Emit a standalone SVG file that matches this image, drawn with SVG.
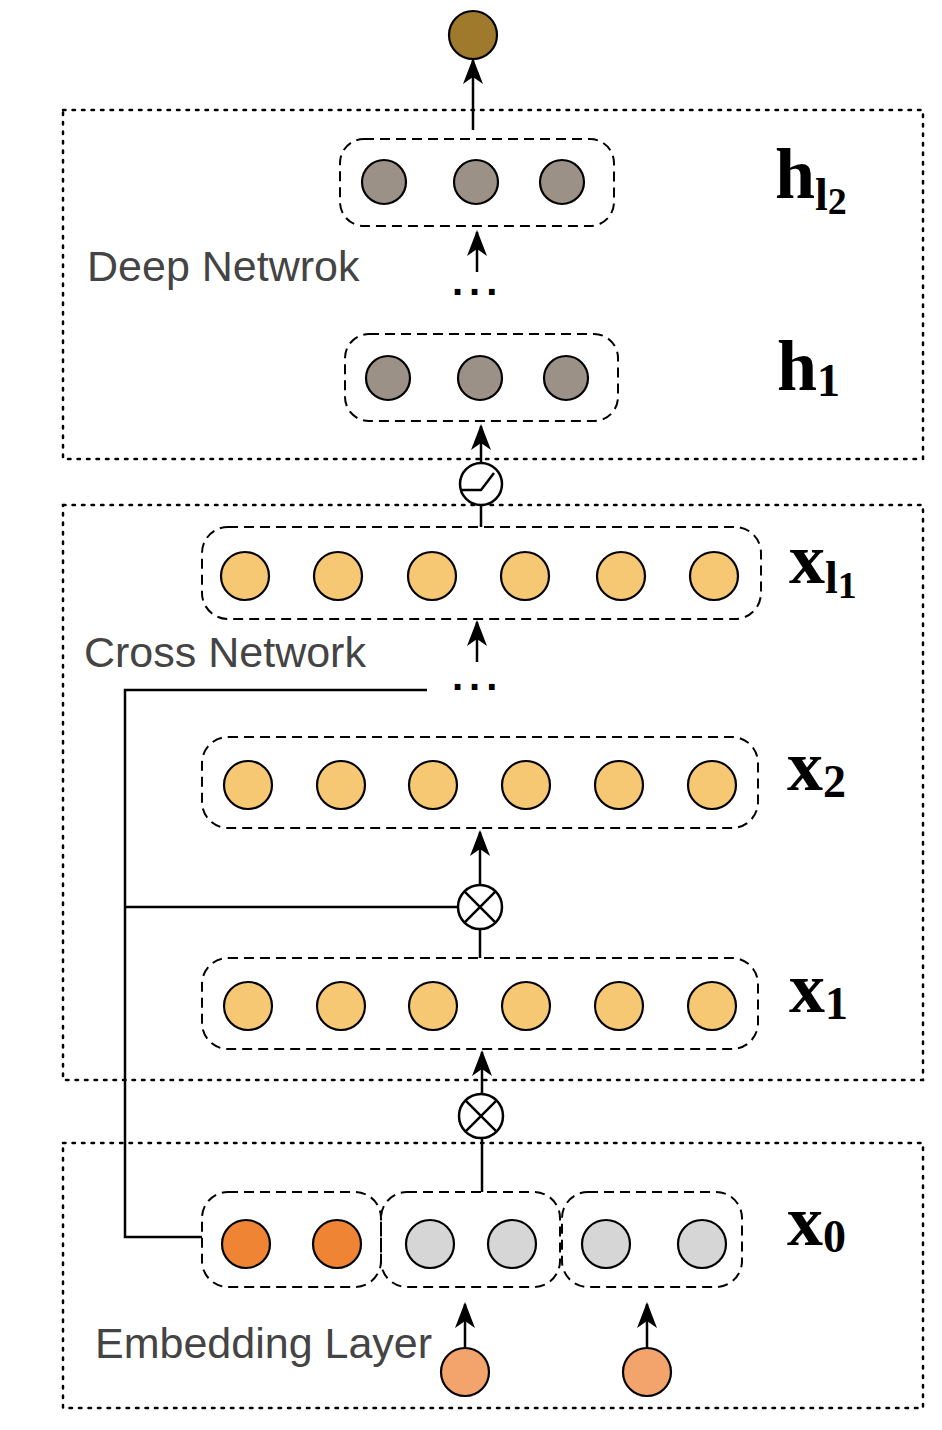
<svg xmlns="http://www.w3.org/2000/svg" width="942" height="1430" viewBox="0 0 942 1430">
<defs>
<style>
.box{fill:none;stroke:#000;stroke-width:2.5;stroke-dasharray:2.5 7;stroke-linecap:round}
.grp{fill:none;stroke:#000;stroke-width:2;stroke-dasharray:10 6}
.n{stroke:#000;stroke-width:2.2}
.gray{fill:#9C9186}
.yel{fill:#F7C873}
.org{fill:#EE8434}
.lg{fill:#D6D6D6}
.inp{fill:#F2A46C}
.ln{fill:none;stroke:#000;stroke-width:2.5}
.arr{fill:none;stroke:#000;stroke-width:2.5;marker-end:url(#ah)}
.lbl{font-family:"Liberation Sans",Arial,sans-serif;font-size:43px;fill:#444}
.math{font-family:"Liberation Serif","DejaVu Serif",serif;font-weight:bold;fill:#000}
.dots{font-family:"Liberation Sans",Arial,sans-serif;font-size:40px;font-weight:bold;fill:#000;letter-spacing:6px}
</style>
<marker id="ah" viewBox="0 0 26 28" refX="24" refY="14" markerWidth="26" markerHeight="28" markerUnits="userSpaceOnUse" orient="auto">
<path d="M0,4 L26,14 L0,24 L7,14 Z" fill="#000"/>
</marker>
</defs>

<g id="boxes">
<rect class="box" x="63" y="110" width="860" height="349"/>
<rect class="box" x="63" y="505" width="860" height="575"/>
<rect class="box" x="63" y="1143" width="860" height="265"/>
</g>

<g id="labels">
<text class="lbl" x="87" y="281">Deep Netwrok</text>
<text class="lbl" x="84" y="667">Cross Network</text>
<text class="lbl" x="95" y="1358">Embedding Layer</text>
</g>

<g id="connectors">
<line class="arr" x1="473" y1="130" x2="473" y2="60"/>
<line class="arr" x1="477" y1="272" x2="477" y2="232"/>
<line class="arr" x1="481" y1="463" x2="481" y2="426"/>
<line class="ln" x1="481" y1="505" x2="481" y2="527"/>
<line class="arr" x1="477" y1="662" x2="477" y2="622"/>
<polyline class="ln" points="427,690 125,690 125,1237 202,1237"/>
<line class="ln" x1="125" y1="907" x2="458" y2="907"/>
<line class="arr" x1="480" y1="885" x2="480" y2="832"/>
<line class="ln" x1="480" y1="929" x2="480" y2="958"/>
<line class="arr" x1="482" y1="1094" x2="482" y2="1052"/>
<polyline class="ln" points="482,1138 482,1192"/>
<line class="arr" x1="465" y1="1348" x2="465" y2="1304"/>
<line class="arr" x1="647" y1="1348" x2="647" y2="1304"/>
</g>

<g id="output"><circle class="n" cx="473" cy="35" r="24" fill="#A07A2C"/></g>

<g id="h_l2">
<rect class="grp" x="340" y="139" width="274" height="87" rx="24"/>
<circle class="n gray" cx="384" cy="182" r="22"/>
<circle class="n gray" cx="476" cy="182" r="22"/>
<circle class="n gray" cx="562" cy="182" r="22"/>
<text class="math" x="775" y="198" font-size="72">h<tspan font-size="46" dy="12">l</tspan><tspan font-size="38" dy="4">2</tspan></text>
</g>
<g id="dots1"><text class="dots" x="452" y="295">...</text></g>

<g id="h1">
<rect class="grp" x="345" y="334" width="273" height="87" rx="24"/>
<circle class="n gray" cx="388" cy="378" r="22"/>
<circle class="n gray" cx="480" cy="378" r="22"/>
<circle class="n gray" cx="566" cy="378" r="22"/>
<text class="math" x="777" y="390" font-size="72">h<tspan font-size="46" dy="6">1</tspan></text>
</g>

<g id="relu">
<circle cx="481" cy="484" r="21" fill="#fff" stroke="#000" stroke-width="2.5"/>
<polyline points="462,490 481,490 494,473" fill="none" stroke="#000" stroke-width="2.5"/>
</g>

<g id="x_l1">
<rect class="grp" x="202" y="527" width="559" height="92" rx="26"/>
<circle class="n yel" cx="245" cy="576" r="24"/>
<circle class="n yel" cx="338" cy="576" r="24"/>
<circle class="n yel" cx="432" cy="576" r="24"/>
<circle class="n yel" cx="525" cy="576" r="24"/>
<circle class="n yel" cx="621" cy="576" r="24"/>
<circle class="n yel" cx="714" cy="576" r="24"/>
<text class="math" x="789" y="583" font-size="72">x<tspan font-size="46" dy="10">l</tspan><tspan font-size="38" dy="5">1</tspan></text>
</g>
<g id="dots2"><text class="dots" x="452" y="690">...</text></g>

<g id="x2">
<rect class="grp" x="202" y="737" width="556" height="91" rx="26"/>
<circle class="n yel" cx="248" cy="785" r="24"/>
<circle class="n yel" cx="341" cy="785" r="24"/>
<circle class="n yel" cx="433" cy="785" r="24"/>
<circle class="n yel" cx="526" cy="785" r="24"/>
<circle class="n yel" cx="619" cy="785" r="24"/>
<circle class="n yel" cx="712" cy="785" r="24"/>
<text class="math" x="787" y="790" font-size="72">x<tspan font-size="46" dy="7">2</tspan></text>
</g>

<g id="cross1">
<circle cx="480" cy="907" r="22" fill="#fff" stroke="#000" stroke-width="2.5"/>
<path d="M464.4,891.4 L495.6,922.6 M495.6,891.4 L464.4,922.6" stroke="#000" stroke-width="2.5"/>
</g>

<g id="x1">
<rect class="grp" x="202" y="958" width="556" height="91" rx="26"/>
<circle class="n yel" cx="248" cy="1006" r="24"/>
<circle class="n yel" cx="341" cy="1006" r="24"/>
<circle class="n yel" cx="433" cy="1006" r="24"/>
<circle class="n yel" cx="526" cy="1006" r="24"/>
<circle class="n yel" cx="619" cy="1006" r="24"/>
<circle class="n yel" cx="712" cy="1006" r="24"/>
<text class="math" x="789" y="1012" font-size="72">x<tspan font-size="46" dy="7">1</tspan></text>
</g>

<g id="cross0">
<circle cx="481" cy="1116" r="22" fill="#fff" stroke="#000" stroke-width="2.5"/>
<path d="M465.4,1100.4 L496.6,1131.6 M496.6,1100.4 L465.4,1131.6" stroke="#000" stroke-width="2.5"/>
</g>

<g id="x0">
<rect class="grp" x="202" y="1192" width="179" height="95" rx="26"/>
<rect class="grp" x="381" y="1192" width="179" height="95" rx="26"/>
<rect class="grp" x="562" y="1192" width="180" height="95" rx="26"/>
<circle class="n org" cx="246" cy="1244" r="24"/>
<circle class="n org" cx="337" cy="1244" r="24"/>
<circle class="n lg" cx="430" cy="1244" r="24"/>
<circle class="n lg" cx="512" cy="1244" r="24"/>
<circle class="n lg" cx="606" cy="1244" r="24"/>
<circle class="n lg" cx="702" cy="1244" r="24"/>
<text class="math" x="787" y="1245" font-size="72">x<tspan font-size="46" dy="7">0</tspan></text>
</g>

<g id="inputs">
<circle class="n inp" cx="465" cy="1372" r="24"/>
<circle class="n inp" cx="647" cy="1372" r="24"/>
</g>
</svg>
